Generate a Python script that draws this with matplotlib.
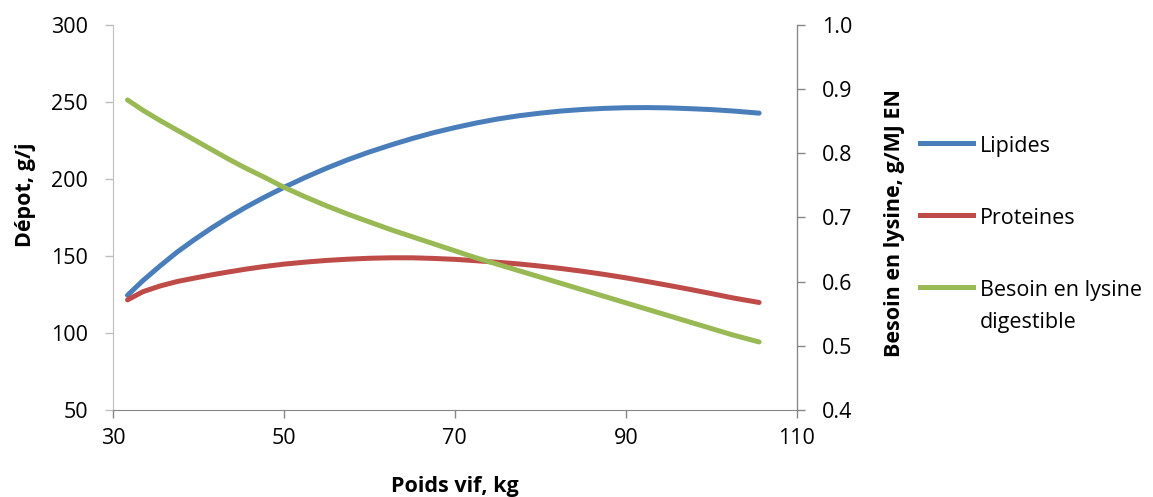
import matplotlib
matplotlib.use("Agg")
import matplotlib.pyplot as plt
from matplotlib.lines import Line2D

plt.rcParams['font.family'] = ['Open Sans', 'DejaVu Sans']

# Data
poids = [31.7, 33.5, 35.5, 37.5, 39.5, 41.5, 43.5, 45.5, 47.5, 50, 52.5, 55, 57.5, 60,
         62.5, 65, 67.5, 70, 72.5, 75, 77.5, 80, 82.5, 85, 87.5, 90, 92.5, 95, 97.5,
         100, 102.5, 105.6]
lipides = [124.5, 134, 143.5, 152.5, 160.5, 168, 175, 181.5, 187.5, 194.5, 201, 207, 212.5,
           217.5, 222, 226.2, 230, 233.3, 236.3, 238.9, 241, 242.7, 244.1, 245.1, 245.8,
           246.2, 246.3, 246.1, 245.6, 245, 244.1, 242.7]
proteines = [121.5, 126.8, 130.5, 133.4, 135.6, 137.7, 139.6, 141.4, 143, 144.7, 146, 147.1,
             147.9, 148.5, 148.8, 148.8, 148.4, 147.8, 146.9, 145.9, 144.8, 143.4, 141.8,
             140, 138, 135.8, 133.4, 130.9, 128.3, 125.6, 122.8, 119.8]
lysine = [0.883, 0.867, 0.851, 0.836, 0.821, 0.806, 0.791, 0.777, 0.764, 0.747, 0.732,
          0.718, 0.705, 0.693, 0.681, 0.670, 0.659, 0.648, 0.637, 0.627, 0.617, 0.607,
          0.597, 0.587, 0.577, 0.567, 0.557, 0.547, 0.537, 0.527, 0.517, 0.506]

series_names = ['Lipides', 'Proteines', 'Besoin en lysine\ndigestible']

xticks = [30, 50, 70, 90, 110]
yticks_left = [50, 100, 150, 200, 250, 300]
yticks_right = [0.4, 0.5, 0.6, 0.7, 0.8, 0.9, 1.0]

c_blue = '#4a7ebb'
c_red = '#be4b48'
c_green = '#98b954'
colors = [c_blue, c_red, c_green]

FS = 15.5
LW = 3.6

fig = plt.figure(figsize=(11.53, 4.97), dpi=100)
ax = fig.add_axes([0.098, 0.175, 0.593, 0.775])
ax2 = ax.twinx()

ax.plot(poids, lipides, color=c_blue, lw=LW, solid_capstyle='round', solid_joinstyle='round')
ax.plot(poids, proteines, color=c_red, lw=LW, solid_capstyle='round', solid_joinstyle='round')
ax2.plot(poids, lysine, color=c_green, lw=LW, solid_capstyle='round', solid_joinstyle='round')

ax.set_xlim(30, 110)
ax.set_ylim(50, 300)
ax2.set_ylim(0.4, 1.0)
ax.set_xticks(xticks)
ax.set_yticks(yticks_left)
ax2.set_yticks(yticks_right)
ax2.set_yticklabels([f"{v:.1f}" for v in yticks_right])

for a in (ax, ax2):
    a.spines['top'].set_visible(False)
    a.tick_params(labelsize=FS, length=6, width=1, colors='#868686', labelcolor='black')
ax.spines['left'].set_color('#bfbfbf')
ax.spines['bottom'].set_color('#868686')
ax2.spines['right'].set_color('#868686')
ax2.spines['left'].set_visible(False)
ax2.spines['bottom'].set_visible(False)
ax.tick_params(axis='y', colors='#bfbfbf', labelcolor='black', pad=12)
ax2.tick_params(axis='y', pad=12)
ax.tick_params(axis='x', pad=7)

ax.set_xlabel('Poids vif, kg', fontsize=FS, fontweight='bold')
ax.xaxis.set_label_coords(0.5, -0.172)
ax.set_ylabel('Dépot, g/j', fontsize=FS, fontweight='bold')
ax.yaxis.set_label_coords(-0.113, 0.56)
ax2.set_ylabel('Besoin en lysine, g/MJ EN', fontsize=FS, fontweight='bold')
ax2.yaxis.set_label_coords(1.128, 0.486)

# Legend (manual, to keep the handle aligned with the first text line)
leg_y = [0.712, 0.567, 0.4225]
for name, col, yy in zip(series_names, colors, leg_y):
    fig.add_artist(Line2D([0.798, 0.844], [yy, yy], color=col, lw=LW,
                          transform=fig.transFigure))
    fig.text(0.850, yy + 0.015, name, fontsize=FS, va='top', ha='left',
             linespacing=1.72)

fig.savefig('out.png', dpi=100)
